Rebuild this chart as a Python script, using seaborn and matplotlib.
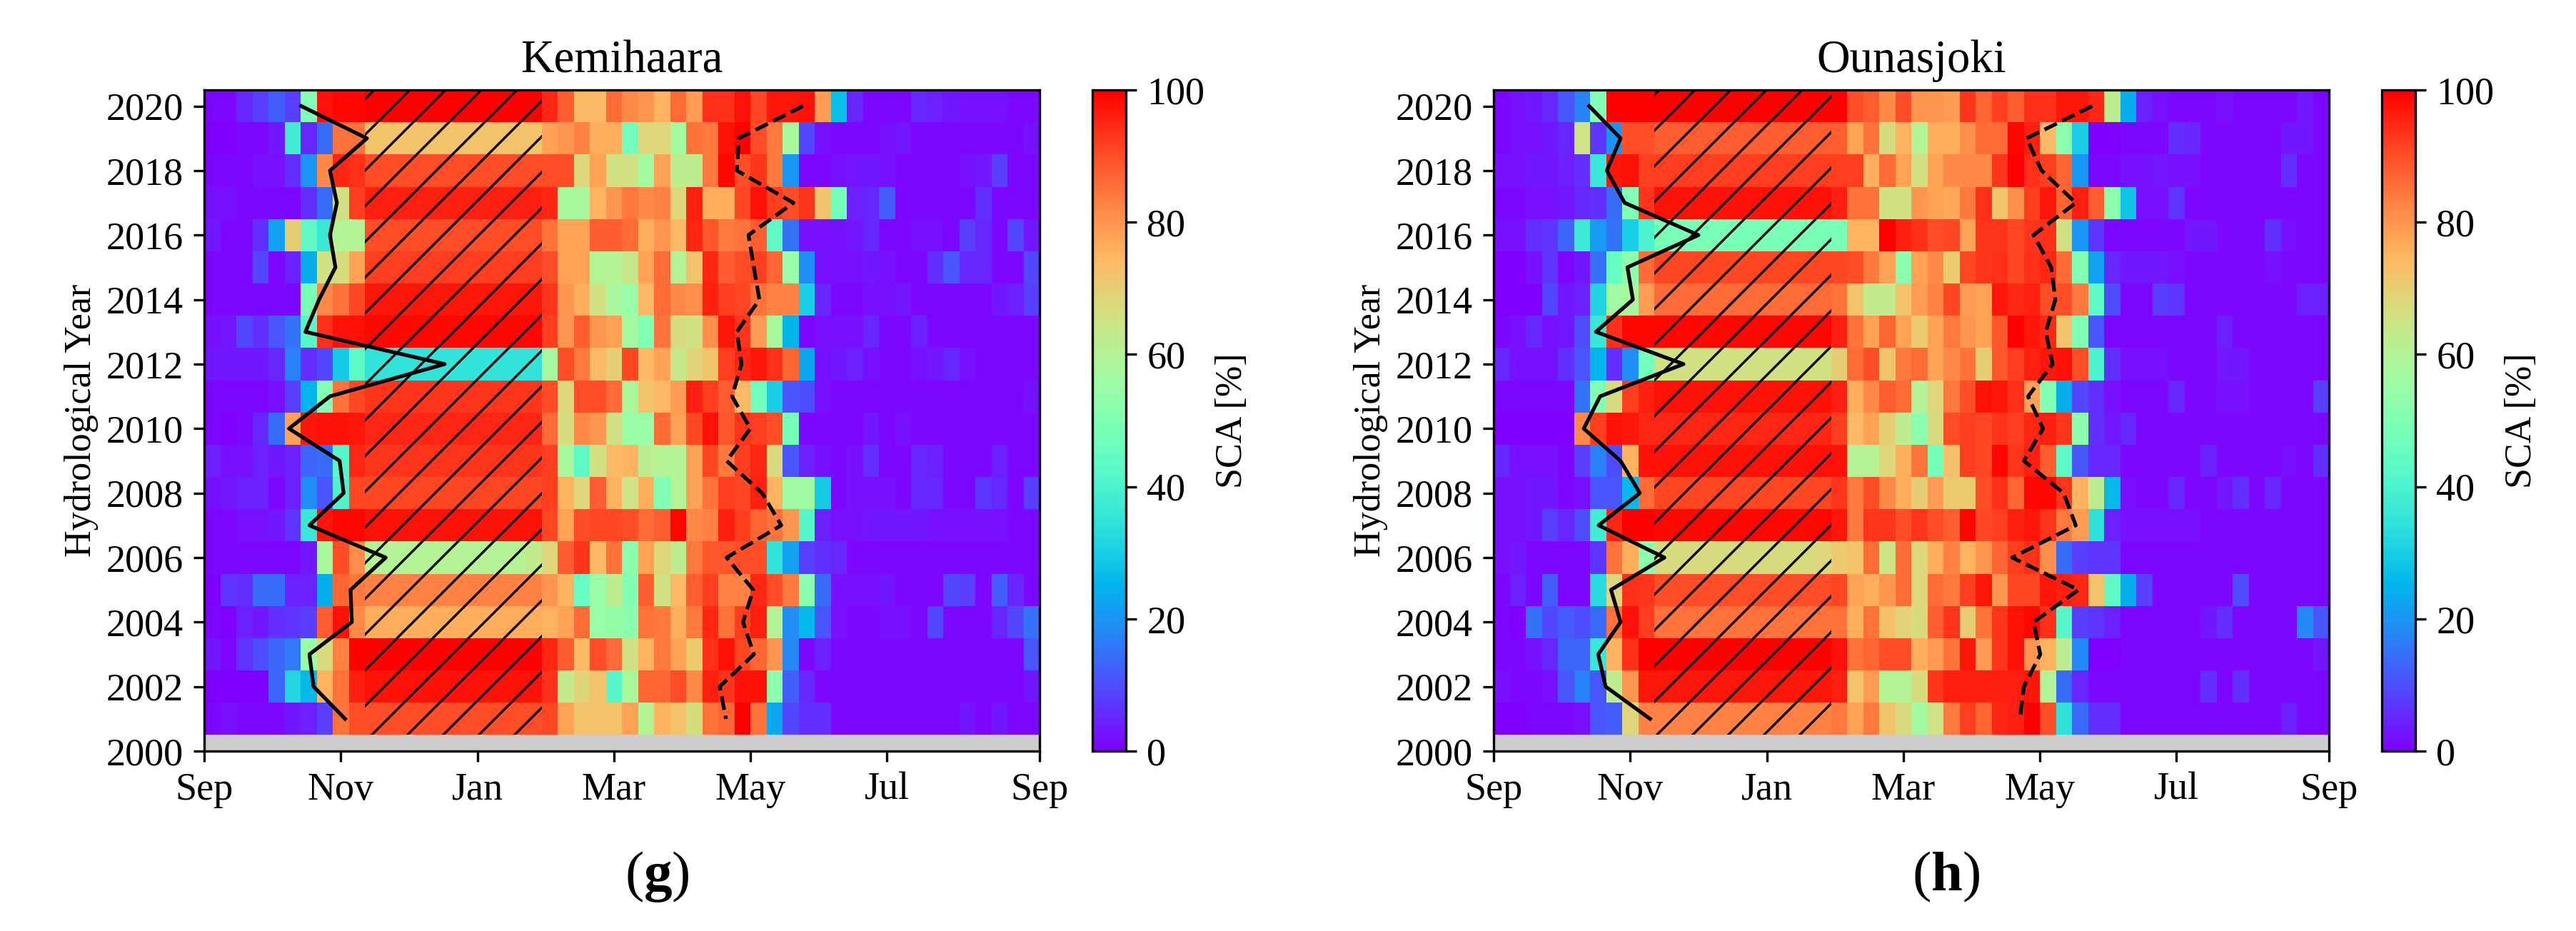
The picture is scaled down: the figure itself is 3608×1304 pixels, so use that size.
import numpy as np
import pandas as pd
import matplotlib
matplotlib.use('Agg')
import matplotlib.pyplot as plt
import seaborn as sns

# Mean snow cover per week (columns) and hydrological year (rows, 2020 first)
kemihaara_sca = [
    [1,1,5,8,12,8,50,98,99,99, 100,100,100,100,100,100,100,100,100,100,100, 95,88,74,74,86, 82,80,75,86,79, 94,94,98,91,97, 97,98,79,27,5, 1,1,1,5,4,3,2,2,2,1,1],
    [0,0,1,1,3,38,5,14,85,85, 72,72,72,72,72,72,72,72,72,72,72, 78,80,83,76,76, 47,68,68,57,85, 84,98,100,90,84, 58,9,2,1,1, 1,2,3,1,1,1,1,1,1,1,2],
    [1,1,1,2,2,6,20,82,95,94, 90,90,90,90,90,90,90,90,90,90,90, 90,90,68,78,66, 66,57,78,62,62, 84,99,90,93,84, 20,1,1,2,3, 3,2,1,1,1,1,2,3,8,1,1],
    [2,2,1,1,1,1,6,14,66,92, 96,96,96,96,96,96,96,96,96,96,96, 95,58,58,75,80, 84,82,83,68,96, 76,76,91,98,92, 90,93,72,48,4, 5,12,1,1,1,1,1,6,1,1,1],
    [3,1,1,6,22,70,44,36,60,60, 90,90,90,90,90,90,90,90,90,90,90, 85,78,78,88,88, 86,76,80,74,95, 89,84,85,88,44, 15,2,2,2,3, 5,1,1,2,2,1,8,5,1,9,3],
    [1,1,1,9,1,4,24,66,67,78, 92,92,92,92,92,92,92,92,92,92,92, 90,78,78,60,60, 64,78,86,60,72, 95,88,90,92,87, 55,19,2,2,2, 3,2,1,1,6,11,5,5,1,1,9],
    [1,1,1,1,1,1,49,82,85,91, 97,97,97,97,97,97,97,97,97,97,97, 93,80,76,66,58, 55,74,86,82,81, 96,92,91,85,83, 83,30,5,1,1, 2,2,3,1,1,1,1,1,3,4,8],
    [2,3,9,6,11,15,42,94,98,98, 99,99,99,99,99,99,99,99,99,99,99, 92,80,88,80,78, 57,50,85,67,66, 81,97,93,79,58, 25,1,2,2,2, 5,1,1,4,1,1,1,1,1,1,1],
    [3,3,3,3,5,17,6,9,29,43, 35,35,35,35,35,35,35,35,35,35,35, 58,90,84,74,70, 91,74,78,64,69, 72,92,95,97,94, 87,23,2,3,4, 2,1,1,2,3,5,2,1,1,1,1],
    [1,1,1,1,2,8,25,50,85,91, 93,93,93,93,93,93,93,93,93,93,93, 90,68,90,90,86, 58,72,74,79,96, 92,88,74,47,30, 11,10,2,1,1, 1,1,1,1,1,1,1,1,1,1,2],
    [1,0,1,5,14,78,97,98,98,97, 95,95,95,95,95,95,95,95,95,95,95, 86,67,82,80,66, 55,55,86,78,91, 98,89,93,92,90, 48,1,1,1,1, 3,1,2,1,1,1,1,1,1,1,1],
    [4,2,2,4,3,4,13,14,42,95, 93,93,93,93,93,93,93,93,93,93,93, 92,58,43,66,74, 75,62,60,60,78, 91,84,92,95,67, 11,4,2,1,2, 6,1,1,5,4,1,1,1,4,1,1],
    [2,3,4,4,1,4,19,11,40,91, 91,91,91,91,91,91,91,91,91,91,91, 92,75,68,88,75, 65,76,50,60,78, 85,92,91,96,75, 56,56,29,1,2, 2,2,1,5,5,1,1,7,5,1,8],
    [1,1,2,2,3,7,36,97,99,99, 98,98,98,98,98,98,98,98,98,98,98, 91,78,90,91,91, 90,86,88,99,82, 83,96,92,87,85, 80,42,4,2,2, 3,3,3,3,2,2,2,2,2,1,1],
    [1,1,1,1,1,1,3,58,90,81, 60,60,60,60,60,60,60,60,60,60,63, 68,88,93,74,85, 52,78,68,62,84, 89,89,90,90,35, 22,8,6,5,1, 1,1,1,1,1,1,1,1,1,1,1],
    [0,7,6,14,14,4,4,24,87,84, 83,83,83,83,83,83,83,83,83,83,83, 80,75,45,55,62, 50,88,66,74,88, 92,83,83,95,90, 84,52,14,2,2, 2,3,1,1,1,9,8,1,12,5,1],
    [1,0,4,3,6,7,8,88,98,82, 76,76,76,76,76,76,76,76,76,76,76, 75,78,86,55,54, 52,85,84,76,84, 95,85,92,96,60, 19,26,11,2,1, 1,2,2,1,9,1,1,1,5,9,15],
    [3,1,7,10,13,16,55,67,83,100, 100,100,100,100,100,100,100,100,100,100,100, 95,88,74,90,86, 66,75,84,78,71, 94,98,91,87,80, 18,1,4,1,1, 1,1,1,1,1,1,1,1,1,1,11],
    [0,0,0,0,13,32,26,75,85,96, 98,98,98,98,98,98,98,98,98,98,98, 94,63,69,72,42, 58,87,87,90,82, 96,93,98,98,53, 12,5,1,1,1, 1,1,1,1,1,1,1,1,1,1,3],
    [1,2,1,1,1,3,4,8,85,90, 90,90,90,90,90,90,90,90,90,90,90, 91,78,72,72,72, 78,60,75,72,67, 85,87,100,85,23, 9,6,6,1,1, 1,1,1,1,1,1,3,1,3,1,1],
]

ounasjoki_sca = [
    [1,2,3,5,11,17,50,100,100,100, 100,100,100,100,100,100,100,100,100,100,100, 100,90,88,82,90, 80,80,79,93,87, 92,88,94,94,97, 97,95,62,24,4, 2,1,1,1,2,1,1,1,1,3,1],
    [1,2,2,3,5,65,7,20,90,90, 88,88,88,88,88,88,88,88,88,88,88, 88,78,85,67,75, 60,76,76,81,86, 86,99,96,74,52, 30,0,0,1,1, 1,6,5,1,1,1,1,1,3,3,1],
    [2,2,3,3,4,6,36,97,98,92, 92,92,92,92,92,92,92,92,92,92,92, 92,92,76,86,78, 66,78,82,82,82, 93,100,94,92,87, 20,1,1,2,2, 3,2,2,1,1,1,1,1,6,1,1],
    [1,1,2,2,3,5,6,14,50,93, 98,98,98,98,98,98,98,98,98,98,98, 96,85,85,66,66, 80,78,77,84,94, 72,81,92,97,87, 96,88,53,28,2, 2,7,1,1,1,1,1,1,1,1,1],
    [2,2,6,7,13,37,21,15,30,40, 49,49,49,49,49,49,49,49,49,49,49, 49,75,75,100,96, 94,90,91,78,93, 93,91,93,94,66, 20,7,1,1,1, 1,1,3,3,1,1,1,6,2,1,1],
    [0,0,2,7,1,3,15,45,53,86, 91,91,91,91,91,91,91,91,91,91,91, 91,90,84,78,52, 78,82,71,91,93, 94,91,94,95,86, 50,22,5,3,3, 3,2,1,1,1,1,1,2,1,1,1],
    [0,0,0,9,3,4,31,56,58,79, 86,86,86,86,86,86,86,86,86,86,86, 85,72,63,63,72, 79,83,91,79,78, 97,95,96,90,90, 84,43,10,1,1, 8,7,1,1,1,1,1,1,1,4,4],
    [1,2,5,2,3,10,36,94,99,99, 99,99,99,99,99,99,99,99,99,99,99, 96,85,78,87,78, 71,78,84,80,78, 89,100,97,95,72, 50,11,1,1,1, 1,1,1,1,4,1,1,1,1,1,1],
    [5,2,2,2,6,11,25,6,19,47, 66,66,66,66,66,66,66,66,66,66,66, 70,86,90,72,84, 86,78,82,85,70, 89,92,96,97,98, 90,40,6,2,2, 2,1,1,1,3,3,1,1,1,1,1],
    [1,1,1,1,1,15,50,67,92,96, 98,98,98,98,98,98,98,98,98,98,98, 96,76,82,88,86, 60,68,84,90,98, 97,94,78,50,24, 9,6,2,1,1, 1,5,1,1,2,2,1,1,1,1,8],
    [0,0,0,0,0,82,92,98,97,95, 95,95,95,95,95,95,95,95,95,95,95, 92,74,78,70,62, 52,67,90,92,91, 93,92,95,96,93, 53,6,3,5,1, 1,1,1,1,1,1,1,1,1,1,1],
    [5,2,2,2,1,8,17,10,75,98, 98,98,98,98,98,98,98,98,98,98,98, 98,60,60,68,76, 85,48,73,92,91, 99,93,96,88,43, 11,5,5,1,1, 1,1,1,4,1,1,1,1,2,1,6],
    [2,2,3,3,1,2,11,11,26,86, 91,91,91,91,91,91,91,91,91,91,91, 93,84,90,82,76, 70,79,71,71,90, 94,87,99,99,93, 75,62,26,2,1, 1,5,1,1,3,6,1,5,1,1,1],
    [2,2,3,8,5,10,38,95,100,100, 99,99,99,99,99,99,99,99,99,99,99, 97,84,93,93,90, 93,90,88,99,91, 92,96,97,93,84, 79,34,4,2,2, 2,2,2,1,1,1,1,1,1,1,1],
    [2,3,1,1,1,1,7,85,76,52, 67,67,67,67,67,67,67,67,67,67,68, 71,72,86,65,86, 68,76,83,75,80, 87,92,94,81,14, 8,7,7,1,1, 1,1,1,1,1,1,1,1,1,1,1],
    [1,4,1,12,1,1,33,68,94,93, 90,90,90,90,90,90,90,90,90,90,90, 91,78,76,80,86, 68,86,84,92,97, 80,91,91,97,96, 95,72,44,24,8, 1,1,1,1,1,10,1,1,1,1,1],
    [1,0,15,9,12,10,14,85,98,92, 85,85,85,85,85,85,85,85,85,85,85, 85,76,85,73,69, 67,88,93,70,85, 93,98,99,94,42, 8,7,4,1,1, 1,1,1,3,6,1,1,1,1,18,11],
    [1,1,2,5,13,13,36,75,94,100, 100,100,100,100,100,100,100,100,100,100,100, 98,85,87,90,90, 76,79,85,97,79, 93,98,80,75,62, 18,0,0,1,1, 1,1,1,1,1,1,1,1,1,1,3],
    [2,1,1,2,11,17,11,62,80,97, 97,97,97,97,97,97,97,97,97,97,97, 96,72,79,60,60, 67,93,96,96,96, 96,96,97,60,14, 5,1,1,1,1, 1,1,1,6,1,6,1,1,1,1,1],
    [0,0,1,1,1,2,11,12,68,83, 83,83,83,83,83,83,83,83,83,83,83, 84,78,84,72,67, 57,65,84,92,87, 95,96,100,90,34, 14,6,6,1,1, 1,1,1,1,1,1,1,1,4,1,1],
]

# Onset (solid) and melt (dashed) week per year, 2020 first
kemihaara_onset = [6.04,10.13,7.83,8.26,7.83,8.17,7.15,6.3,14.97,7.83,5.28,8.43,8.68,6.55,11.3,9.11,9.19,6.55,6.81,8.77]
kemihaara_melt = [37.28,33.28,33.16,36.68,33.88,34.22,34.56,33.16,33.45,32.86,34.0,32.52,34.73,35.92,32.52,34.18,33.54,34.22,32.09,32.48]
ounasjoki_onset = [5.95,7.9,7.05,8.16,12.75,8.33,8.67,6.37,11.82,6.63,5.61,7.9,9.1,6.54,10.63,7.31,7.9,6.51,6.97,9.74]
ounasjoki_melt = [37.26,33.18,34.11,36.24,33.61,34.71,34.97,34.37,34.8,33.27,34.2,33.01,35.48,36.24,32.28,36.41,33.61,34.03,33.01,32.76]

years = list(range(2020, 2000, -1))
month_labels = ['Sep', 'Nov', 'Jan', 'Mar', 'May', 'Jul', 'Sep']
month_weeks = [0, 8.5, 17, 25.5, 34, 42.5, 52]
year_ticks = list(range(2000, 2021, 2))
sca_ticks = [0, 20, 40, 60, 80, 100]

W, H = 3608, 1304

plt.rcParams['font.family'] = ['Liberation Serif', 'DejaVu Serif']
plt.rcParams['mathtext.fontset'] = 'custom'
plt.rcParams['mathtext.rm'] = 'Liberation Serif'
plt.rcParams['mathtext.bf'] = 'Liberation Serif:bold'
plt.rcParams['hatch.linewidth'] = 0.8
plt.rcParams['font.size'] = 12


def px_axes(fig, left, top, right, bottom):
    # Axes placed by pixel edges of the final image
    return fig.add_axes([left / W, 1 - bottom / H, (right - left) / W, (bottom - top) / H])


def draw_panel(fig, left, title, sca, onset, melt, letter):
    ax = px_axes(fig, left, 126, left + 1170, 1052)
    cax = px_axes(fig, left + 1244, 126, left + 1291, 1052)

    # 2000 has no data, it shows up as the grey strip at the bottom
    table = pd.DataFrame(sca[::-1], index=years[::-1], dtype=float)
    table.loc[2000] = np.nan
    table = table.sort_index()

    ax.set_facecolor('#cccccc')
    sns.heatmap(table, ax=ax, cbar_ax=cax, cmap='rainbow', vmin=0, vmax=100,
                xticklabels=False, yticklabels=False,
                cbar_kws={'ticks': sca_ticks})
    ax.set_ylim(0.5, 21)
    ax.set_xlim(0, 52)

    # Hatched mid-winter period
    ax.fill_between([10, 21], 1, 21, facecolor='none', edgecolor='k', hatch='//', linewidth=0)

    rows = [y - 2000 + 0.5 for y in years]
    ax.plot(onset, rows, color='k', lw=1.25)
    ax.plot(melt, rows, color='k', lw=1.25, ls='--')

    ax.set_xticks(month_weeks)
    ax.set_xticklabels(month_labels)
    ax.set_yticks([y - 2000 + 0.5 for y in year_ticks])
    ax.set_yticklabels(year_ticks, rotation=0)
    ax.tick_params(length=3.5, width=0.8, labelsize=13, color='k')
    ax.set_xlabel('')
    ax.set_ylabel('Hydrological Year', fontsize=12.5, labelpad=2.5)
    ax.set_title(title, fontsize=15.5, pad=6)
    for spine in ax.spines.values():
        spine.set_visible(True)
        spine.set_linewidth(0.8)

    cbar = ax.collections[0].colorbar
    cbar.outline.set_visible(True)
    cbar.outline.set_linewidth(0.8)
    cbar.ax.tick_params(length=3.5, width=0.8, labelsize=13)
    cbar.set_label('SCA [%]', fontsize=12.5, labelpad=3.5)

    fig.text((left + 634) / W, 1 - 1228 / H, letter, ha='center', va='center', fontsize=19)


fig = plt.figure(figsize=(W / 300, H / 300), dpi=300)
draw_panel(fig, 286, 'Kemihaara', kemihaara_sca, kemihaara_onset, kemihaara_melt, r'($\mathbf{g}$)')
draw_panel(fig, 2092, 'Ounasjoki', ounasjoki_sca, ounasjoki_onset, ounasjoki_melt, r'($\mathbf{h}$)')
fig.savefig('out.png', dpi=300)
